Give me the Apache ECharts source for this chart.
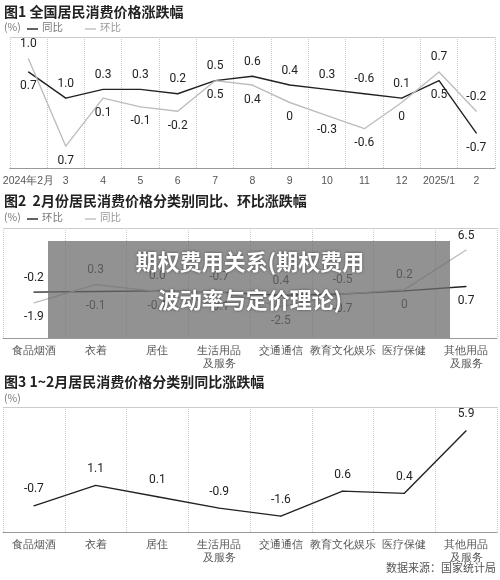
<!DOCTYPE html>
<html><head><meta charset="utf-8">
<script src="https://cdn.jsdelivr.net/npm/echarts@6/dist/echarts.min.js"></script>
<style>html,body{margin:0;padding:0;background:#fff}#c{width:500px;height:580px}</style>
</head><body><div id="c"></div>
<script>
// Chart 1
const months = ['2024年2月','3','4','5','6','7','8','9','10','11','12','2025/1','2'];
const yoy1 = [0.7,0.1,0.3,0.3,0.2,0.5,0.6,0.4,0.3,0.2,0.1,0.5,-0.7];
const mom1 = [1.0,-1.0,0.1,-0.1,-0.2,0.5,0.4,0,-0.3,-0.6,0,0.7,-0.2];
const top1 = ['1.0','1.0','0.3','0.3','0.2','0.5','0.6','0.4','0.3','-0.6','0.1','0.7','-0.2'];
const bot1 = ['0.7','0.7','0.1','-0.1','-0.2','0.5','0.4','0','-0.3','-0.6','0','0.5','-0.7'];
// Chart 2
const cats = ['食品烟酒','衣着','居住','生活用品\n及服务','交通通信','教育文化娱乐','医疗保健','其他用品\n及服务'];
const mom2 = [-0.2,-0.1,0.0,-0.2,-0.7,-0.5,0,0.7];
const yoy2 = [-1.9,1.0,-0.1,-0.1,-2.5,-0.5,0.2,6.5];
const top2 = ['-0.2','0.3','0.0','-0.7','0.4','-0.5','0.2','6.5'];
const bot2 = ['-1.9','-0.1','-0.1','-0.1','-2.5','-0.7','0','0.7'];
// Chart 3
const yoy3 = [-0.7,1.1,0.1,-0.9,-1.6,0.6,0.4,5.9];
const lab3 = ['-0.7','1.1','0.1','-0.9','-1.6','0.6','0.4','5.9'];

const BLACK='#222', GRAY='#bdbdbd';
function build(a,b,top,bot){
  const A=[],B=[];
  for(let i=0;i<a.length;i++){
    const aTop=a[i]>=b[i];
    A.push({value:a[i],label:{show:true,position:aTop?'top':'bottom',distance:8,formatter:aTop?top[i]:bot[i]}});
    B.push({value:b[i],label:{show:true,position:aTop?'bottom':'top',distance:8,formatter:aTop?bot[i]:top[i]}});
  }
  return [A,B];
}
const [y1,m1]=build(yoy1,mom1,top1,bot1);
const [m2,y2]=build(mom2,yoy2,top2,bot2);
const lbl={show:true,color:'#222',fontSize:12,fontFamily:'Roboto'};
const catAxis=(gi,data)=>({type:'category',gridIndex:gi,data,boundaryGap:true,
  axisLine:{onZero:false,lineStyle:{color:'#999'}},axisTick:{show:false},
  axisLabel:{color:'#555',fontSize:10.5,interval:0,lineHeight:13,margin:7},
  splitLine:{show:true,lineStyle:{color:'#ccc',type:'dotted'}}});
const valAxis=(gi,min,max)=>({type:'value',gridIndex:gi,min,max,show:false});
const ls=(c)=>({color:c,width:1.4});
const base={type:'line',symbol:'circle',symbolSize:1,showSymbol:true,label:lbl};
const chart=echarts.init(document.getElementById('c'));
chart.setOption({
  animation:false,
  grid:[{left:5,right:5,top:37,height:131},{left:3,right:3,top:228,height:110},{left:3,right:3,top:407,height:125}],
  xAxis:[catAxis(0,months),catAxis(1,cats),catAxis(2,cats)],
  yAxis:[valAxis(0,-1.5,1.5),valAxis(1,-7.5,10),valAxis(2,-3,8)],
  series:[
    {...base,xAxisIndex:0,yAxisIndex:0,data:y1,lineStyle:ls(BLACK),itemStyle:{color:BLACK},z:3,
     markLine:{silent:true,symbol:'none',label:{show:false},lineStyle:{color:'#ccc',type:'solid',width:1},data:[{yAxis:1.5}]}},
    {...base,xAxisIndex:0,yAxisIndex:0,data:m1,lineStyle:ls(GRAY),itemStyle:{color:GRAY}},
    {...base,xAxisIndex:1,yAxisIndex:1,data:m2,lineStyle:ls(BLACK),itemStyle:{color:BLACK},z:3,
     markLine:{silent:true,symbol:'none',label:{show:false},lineStyle:{color:'#ccc',type:'solid',width:1},data:[{yAxis:10}]}},
    {...base,xAxisIndex:1,yAxisIndex:1,data:y2,lineStyle:ls(GRAY),itemStyle:{color:GRAY}},
    {...base,xAxisIndex:2,yAxisIndex:2,data:yoy3,lineStyle:ls(BLACK),itemStyle:{color:BLACK},
     label:{...lbl,position:'top',distance:10,formatter:p=>lab3[p.dataIndex]},
     markLine:{silent:true,symbol:'none',label:{show:false},lineStyle:{color:'#ccc',type:'solid',width:1},data:[{yAxis:8}]}}
  ],
  graphic:[
    {type:'text',left:4,top:5,style:{text:'图1 全国居民消费价格涨跌幅',font:'bold 14px "Noto Sans CJK SC"',fill:'#222'}},
    {type:'text',left:4,top:22,style:{text:'(%)',font:'10.5px "Noto Sans CJK SC"',fill:'#777'}},
    {type:'line',shape:{x1:27,y1:29,x2:38,y2:29},style:{stroke:BLACK,lineWidth:1.4}},
    {type:'text',left:42,top:22,style:{text:'同比',font:'10.5px "Noto Sans CJK SC"',fill:'#777'}},
    {type:'line',shape:{x1:85,y1:29,x2:96,y2:29},style:{stroke:GRAY,lineWidth:1.4}},
    {type:'text',left:100,top:22,style:{text:'环比',font:'10.5px "Noto Sans CJK SC"',fill:'#999'}},

    {type:'text',left:4,top:194,style:{text:'图2  2月份居民消费价格分类别同比、环比涨跌幅',font:'bold 14px "Noto Sans CJK SC"',fill:'#222'}},
    {type:'text',left:4,top:212,style:{text:'(%)',font:'10.5px "Noto Sans CJK SC"',fill:'#777'}},
    {type:'line',shape:{x1:27,y1:219,x2:38,y2:219},style:{stroke:BLACK,lineWidth:1.4}},
    {type:'text',left:42,top:212,style:{text:'环比',font:'10.5px "Noto Sans CJK SC"',fill:'#777'}},
    {type:'line',shape:{x1:85,y1:219,x2:96,y2:219},style:{stroke:GRAY,lineWidth:1.4}},
    {type:'text',left:100,top:212,style:{text:'同比',font:'10.5px "Noto Sans CJK SC"',fill:'#999'}},

    {type:'text',left:4,top:375,style:{text:'图3 1~2月居民消费价格分类别同比涨跌幅',font:'bold 14px "Noto Sans CJK SC"',fill:'#222'}},
    {type:'text',left:4,top:393,style:{text:'(%)',font:'10.5px "Noto Sans CJK SC"',fill:'#777'}},
    {type:'text',right:4,top:562,style:{text:'数据来源：国家统计局',font:'11px "Noto Sans CJK SC"',fill:'#555'}},

    {type:'rect',shape:{x:48,y:241,width:402,height:97},style:{fill:'rgba(110,110,110,0.75)'},z:100},
    {type:'text',x:250,y:262,z:101,style:{text:'期权费用关系(期权费用',font:'bold 22px "Noto Sans CJK SC"',fill:'#fff',align:'center',verticalAlign:'middle',textShadowColor:'rgba(0,0,0,0.5)',textShadowBlur:3}},
    {type:'text',x:250,y:300,z:101,style:{text:'波动率与定价理论)',font:'bold 22px "Noto Sans CJK SC"',fill:'#fff',align:'center',verticalAlign:'middle',textShadowColor:'rgba(0,0,0,0.5)',textShadowBlur:3}}
  ]
});
</script></body></html>
